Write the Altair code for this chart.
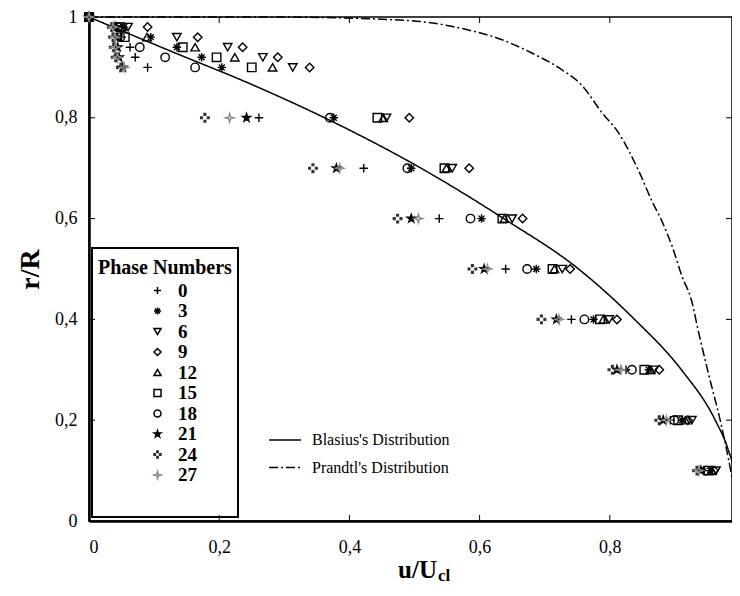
import altair as alt
import pandas as pd

# ---------------- data ----------------
phases = ["0", "3", "6", "9", "12", "15", "18", "21", "24", "27"]
r_rows = [1.0, 0.98, 0.96, 0.94, 0.92, 0.90, 0.8, 0.7, 0.6, 0.5, 0.4, 0.3, 0.2, 0.1]

u_phase0 = [0, 0.043, 0.050, 0.063, 0.071, 0.090, 0.261, 0.422, 0.538, 0.640, 0.741, 0.825, 0.893, 0.945]
u_phase3 = [0, 0.054, 0.095, 0.135, 0.173, 0.204, 0.376, 0.495, 0.603, 0.687, 0.775, 0.860, 0.911, 0.954]
u_phase6 = [0, 0.060, 0.135, 0.213, 0.267, 0.313, 0.457, 0.558, 0.650, 0.727, 0.799, 0.868, 0.926, 0.963]
u_phase9 = [0, 0.090, 0.167, 0.236, 0.290, 0.339, 0.492, 0.584, 0.666, 0.739, 0.811, 0.876, 0.920, 0.960]
u_phase12 = [0, 0.050, 0.089, 0.163, 0.224, 0.282, 0.452, 0.549, 0.638, 0.715, 0.790, 0.863, 0.916, 0.957]
u_phase15 = [0, 0.048, 0.055, 0.144, 0.196, 0.250, 0.443, 0.546, 0.635, 0.712, 0.785, 0.853, 0.905, 0.951]
u_phase18 = [0, 0.044, 0.048, 0.078, 0.117, 0.163, 0.370, 0.489, 0.586, 0.673, 0.761, 0.834, 0.899, 0.948]
u_phase21 = [0, 0.040, 0.043, 0.044, 0.046, 0.052, 0.242, 0.380, 0.495, 0.607, 0.718, 0.811, 0.882, 0.940]
u_phase24 = [0, 0.035, 0.037, 0.038, 0.041, 0.049, 0.178, 0.344, 0.474, 0.589, 0.695, 0.804, 0.876, 0.934]
u_phase27 = [0, 0.037, 0.040, 0.041, 0.044, 0.054, 0.216, 0.385, 0.506, 0.612, 0.722, 0.817, 0.887, 0.937]

blasius_u = [0.0, 0.126, 0.252, 0.362, 0.51, 0.637, 0.752, 0.838, 0.91, 0.962, 0.981, 0.994, 1.0]
blasius_r = [1.0, 0.932, 0.865, 0.8, 0.7, 0.6, 0.5, 0.4, 0.3, 0.2, 0.145, 0.086, 0.04]

prandtl_u = [0.0, 0.30, 0.477, 0.528, 0.580, 0.630, 0.681, 0.722, 0.758, 0.788, 0.814, 0.845, 0.865,
             0.880, 0.896, 0.911, 0.925, 0.937, 0.952, 0.971, 0.982, 0.995, 1.0]
prandtl_r = [1.0, 0.9998, 0.994, 0.988, 0.975, 0.957, 0.928, 0.899, 0.863, 0.810, 0.769, 0.693, 0.634,
             0.595, 0.544, 0.485, 0.440, 0.371, 0.290, 0.192, 0.125, 0.035, 0.0]

curve_names = ["Blasius's Distribution", "Prandtl's Distribution"]
tick_vals = [0.2, 0.4, 0.6, 0.8]
x_label_vals = [0, 0.2, 0.4, 0.6, 0.8]
y_label_vals = [0, 0.2, 0.4, 0.6, 0.8, 1]

# ---------------- frames ----------------
u_all = [u_phase0, u_phase3, u_phase6, u_phase9, u_phase12,
         u_phase15, u_phase18, u_phase21, u_phase24, u_phase27]
rows = []
for ph, us in zip(phases, u_all):
    for r, u in zip(r_rows, us):
        rows.append({"phase": ph, "u": u, "r": r})
pts = pd.DataFrame(rows)

lines = pd.concat([
    pd.DataFrame({"u": blasius_u, "r": blasius_r, "curve": curve_names[0], "idx": range(len(blasius_u))}),
    pd.DataFrame({"u": prandtl_u, "r": prandtl_r, "curve": curve_names[1], "idx": range(len(prandtl_u))}),
])
ticks = pd.DataFrame({"v": tick_vals})

W, H = 643, 504
XR = 651  # pixel span of u = 0..1 (the reference crops the right edge)
FONT = "Liberation Serif"

xs = alt.Scale(domain=[0, 1], range=[0, XR], nice=False, zero=False)
ys = alt.Scale(domain=[0, 1], nice=False, zero=False)
lab = "replace(format(datum.value, '.1~f'), '.', ',')"
xaxis = alt.Axis(values=x_label_vals, labelExpr=lab, title=None, ticks=False, grid=False,
                 labelPadding=17, domainWidth=2.5, domainColor="black",
                 labelFont=FONT, labelFontSize=18, labelColor="black")
yaxis = alt.Axis(values=y_label_vals, labelExpr=lab, title="r/R", ticks=False, grid=False,
                 labelPadding=12, domainWidth=2.5, domainColor="black",
                 labelFont=FONT, labelFontSize=18, labelColor="black",
                 titleFont=FONT, titleFontSize=28, titleFontWeight="bold",
                 titleColor="black", titlePadding=10)


def X(f):
    return alt.X(f"{f}:Q", scale=xs, axis=xaxis)


def Y(f):
    return alt.Y(f"{f}:Q", scale=ys, axis=yaxis)


plus = "M-1,0L1,0M0,-1L0,1"
aster = "M-1,0L1,0M0,-1L0,1M-0.7,-0.7L0.7,0.7M-0.7,0.7L0.7,-0.7"
star5 = ("M0,-1L0.225,-0.309L0.951,-0.309L0.363,0.118L0.588,0.809L0,0.382"
         "L-0.588,0.809L-0.363,0.118L-0.951,-0.309L-0.225,-0.309Z")
dots4 = "M-0.2,-1h0.4v0.4h-0.4zM-0.2,0.6h0.4v0.4h-0.4zM-1,-0.2h0.4v0.4h-0.4zM0.6,-0.2h0.4v0.4h-0.4z"
star4 = "M0,-1L0.22,-0.22L1,0L0.22,0.22L0,1L-0.22,0.22L-1,0L-0.22,-0.22Z"

shape_range = [plus, aster, "triangle-down", "diamond", "triangle-up", "square", "circle", star5, dots4, star4]
fill_range = ["transparent"] * 7 + ["black", "#333333", "transparent"]
stroke_range = ["black"] * 8 + ["#333333", "#8a8a8a"]

leg = alt.Legend(title="Phase Numbers", orient="none", legendX=9, legendY=241,
                 titleFont=FONT, titleFontSize=20, titleFontWeight="bold", titleColor="black",
                 labelFont=FONT, labelFontSize=19, labelFontWeight="bold", labelColor="black",
                 symbolSize=50, symbolStrokeWidth=1.5, symbolOffset=50, labelOffset=11,
                 rowPadding=0.5, titlePadding=3, padding=0)

box = alt.Chart(pd.DataFrame({"a": [0]})).mark_rect(
    fill="white", stroke="black", strokeWidth=2
).encode(x=alt.value(3), x2=alt.value(149), y=alt.value(231), y2=alt.value(500))

curves = alt.Chart(lines).mark_line(color="black", strokeWidth=1.5, interpolate="monotone").encode(
    x=X("u"), y=Y("r"), order=alt.Order("idx:Q"),
    strokeDash=alt.StrokeDash(
        "curve:N",
        scale=alt.Scale(domain=curve_names, range=[[1, 0], [9, 3, 2, 3]]),
        legend=alt.Legend(title=None, orient="none", legendX=179, legendY=406,
                          symbolType="stroke", symbolSize=1024, symbolStrokeWidth=1.5,
                          symbolStrokeColor="black",
                          labelFont=FONT, labelFontSize=16, labelColor="black",
                          labelOffset=10, rowPadding=2.5, padding=0),
    ),
)

tb = alt.Chart(ticks).mark_rule(color="black", strokeWidth=1).encode(x=X("v"), y=alt.value(H), y2=alt.value(H - 6))
tt = alt.Chart(ticks).mark_rule(color="black", strokeWidth=1).encode(x=X("v"), y=alt.value(0), y2=alt.value(6))
tl = alt.Chart(ticks).mark_rule(color="black", strokeWidth=1).encode(y=Y("v"), x=alt.value(0), x2=alt.value(6))
tr = alt.Chart(ticks).mark_rule(color="black", strokeWidth=1).encode(y=Y("v"), x=alt.value(W), x2=alt.value(W - 6))

points = alt.Chart(pts).mark_point(size=72, strokeWidth=1.4, opacity=1).encode(
    x=X("u"), y=Y("r"),
    shape=alt.Shape("phase:N", scale=alt.Scale(domain=phases, range=shape_range), legend=leg),
    fill=alt.Fill("phase:N", scale=alt.Scale(domain=phases, range=fill_range), legend=leg),
    stroke=alt.Stroke("phase:N", scale=alt.Scale(domain=phases, range=stroke_range), legend=leg),
)

t1 = alt.Chart(pd.DataFrame({"t": ["u/U"]})).mark_text(
    font=FONT, fontSize=25, fontWeight="bold", align="right", baseline="alphabetic", color="black"
).encode(x=alt.value(348), y=alt.value(561), text="t:N")
t2 = alt.Chart(pd.DataFrame({"t": ["cl"]})).mark_text(
    font=FONT, fontSize=17, fontWeight="bold", align="left", baseline="alphabetic", color="black"
).encode(x=alt.value(349), y=alt.value(564), text="t:N")

chart = alt.layer(box, curves, tb, tt, tl, tr, points, t1, t2).properties(
    width=W, height=H,
    autosize=alt.AutoSizeParams(type="none"),
    padding={"left": 81, "top": 9, "right": 0, "bottom": 65},
).configure_view(
    stroke="black", strokeWidth=1.5
).configure_axis(
    labelFont=FONT, titleFont=FONT
).configure_legend(
    labelFont=FONT, titleFont=FONT
).configure_text(font=FONT)

chart.save("out.html", embed_options={"renderer": "svg", "actions": False})
